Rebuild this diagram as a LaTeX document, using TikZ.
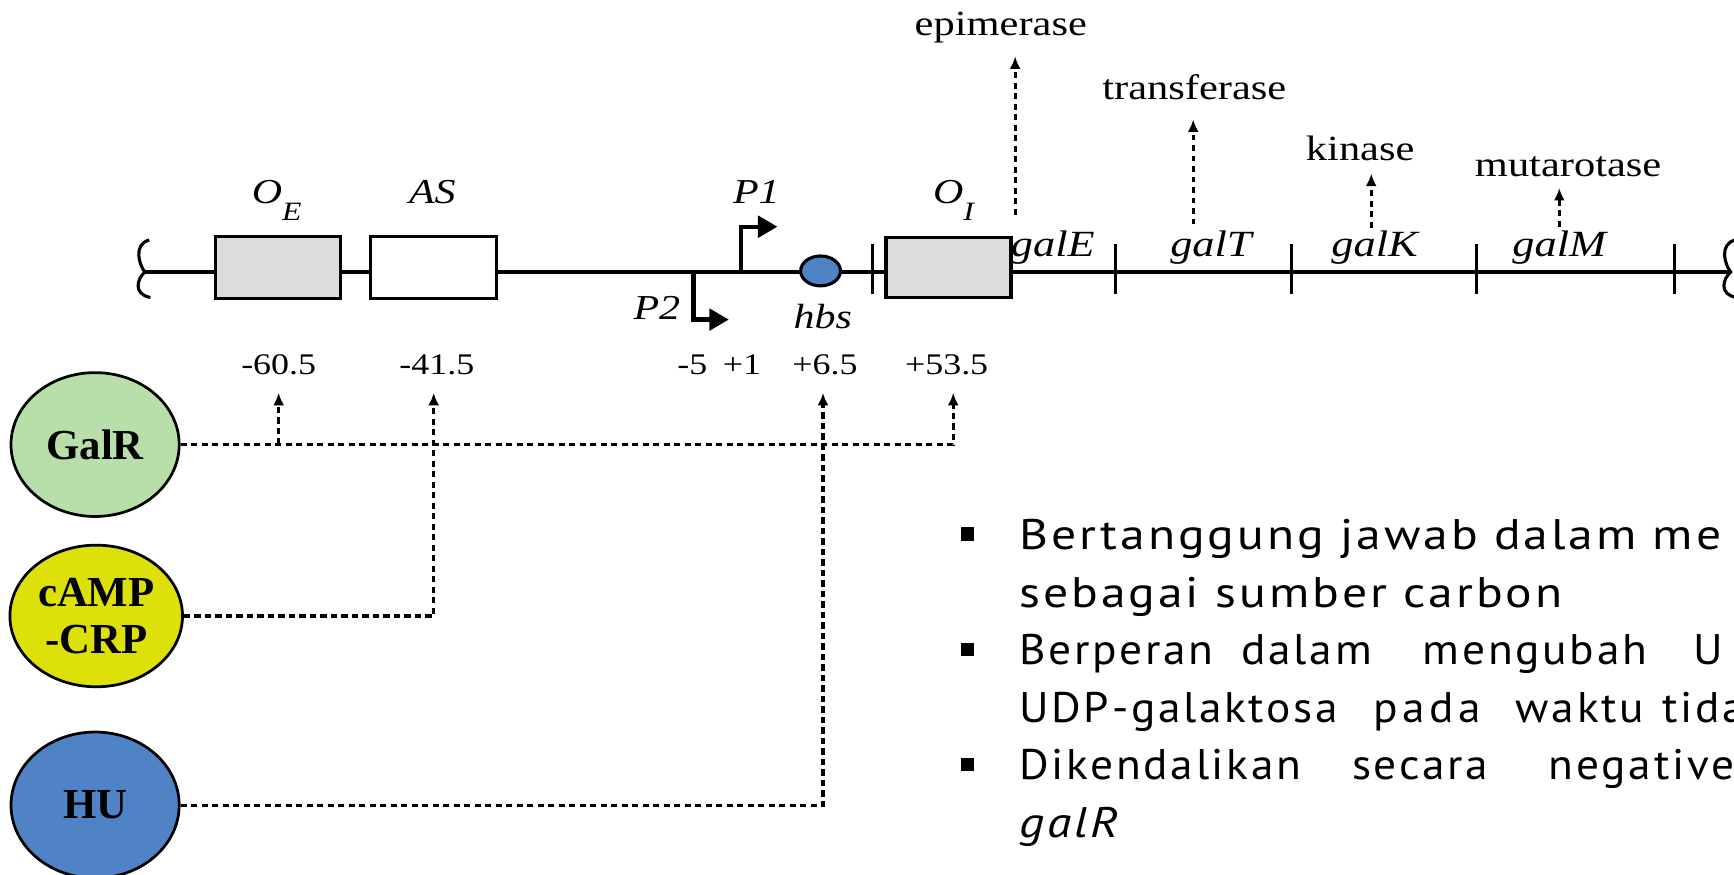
\documentclass[tikz,border=0pt]{standalone}
\usepackage{fontspec}
\setmainfont{Liberation Serif}
\newfontfamily\slidefont[LetterSpace=6]{PT Sans}
\newfontfamily\slidewidefont[LetterSpace=10]{PT Sans}
\usepackage{graphicx}
\usetikzlibrary{arrows.meta,shapes.geometric}
\definecolor{galrgreen}{RGB}{184,222,170}
\definecolor{crpyellow}{RGB}{222,224,10}
\definecolor{hublue}{RGB}{80,130,198}
\definecolor{boxgray}{RGB}{220,220,220}
\newcommand{\wid}[1]{\scalebox{1.2}[1]{#1}}
\newcommand{\sw}[1]{\scalebox{1.16}[1]{#1}}
\newcommand{\sn}[1]{\scalebox{1.06}[1]{#1}}
\tikzset{
 dna/.style={line width=0.8pt},
 dnatick/.style={line width=0.8pt},
 regbox/.style={draw, line width=0.9pt, inner sep=0pt, minimum height=0.56cm, minimum width=1.13cm},
 lbl/.style={inner sep=0pt, anchor=base},
 enz/.style={lbl, font=\fontsize{9.1}{10}\selectfont},
 gene/.style={lbl, font=\fontsize{9.5}{10}\selectfont\itshape},
 site/.style={lbl, font=\fontsize{9}{10}\selectfont\itshape},
 num/.style={lbl, font=\fontsize{7.7}{9}\selectfont},
 protein/.style={ellipse, draw, line width=0.7pt, inner sep=0pt, minimum width=1.52cm, minimum height=1.3cm, font=\fontsize{11}{12.2}\selectfont\bfseries, align=center},
 conn/.style={line width=0.8pt, dash pattern=on 1.6pt off 1.1pt},
 connarrow/.style={conn, -{Latex[length=3.2pt,width=2.8pt]}},
 enzarrow/.style={line width=0.8pt, dash pattern=on 1.5pt off 1.2pt, -{Latex[length=3.2pt,width=2.8pt]}},
 promarrow/.style={line width=1.1pt, -{Triangle[length=5pt,width=5.5pt]}},
 bword/.style={inner sep=0pt, anchor=base west, font=\slidefont\fontsize{11}{13}\selectfont},
 bwide/.style={bword, font=\slidewidefont\fontsize{11}{13}\selectfont},
 bullet/.style={fill, inner sep=0pt, minimum size=0.12cm},
}
\begin{document}
\begin{tikzpicture}[x=0.01cm,y=-0.01cm]
\clip (0,0) rectangle (1568,791);
\fill[white] (0,0) rectangle (1568,791);
% DNA backbone
\coordinate (L) at (131,246);
\coordinate (R) at (1565,246);
\draw[dna] (L) -- (R);
\draw[dna] (135,217) .. controls (120,221) and (126,240) .. (L) .. controls (124,252) and (120,266) .. (136,269);
\draw[dna] (1569,217) .. controls (1554,221) and (1560,240) .. (R) .. controls (1558,252) and (1554,266) .. (1570,269);
\foreach \x in {789,1009,1168,1335,1514} \draw[dnatick] (\x,221) -- (\x,266);
% boxes
\node[regbox, fill=boxgray] (oe) at (251.5,242) {};
\node[regbox, fill=white, minimum width=1.14cm] (as) at (392,242) {};
\node[regbox, fill=boxgray, minimum height=0.54cm] (oi) at (857.5,242) {};
\node[ellipse, draw, line width=0.8pt, fill=hublue, minimum width=0.36cm, minimum height=0.27cm, inner sep=0pt] (hbs) at (742,245) {};
% promoters
\coordinate (p1a) at (670,246); \coordinate (p1b) at (670,205); \coordinate (p1c) at (703,205);
\coordinate (p2a) at (627,246); \coordinate (p2b) at (627,289); \coordinate (p2c) at (659,289);
\draw[promarrow] (p1a) -- (p1b) -- (p1c);
\draw[promarrow] (p2a) -- (p2b) -- (p2c);
% site labels
\node[site, anchor=base west] (oel) at (227,184) {\wid{O\raisebox{-4.3pt}{\fontsize{6.8}{7}\selectfont E}}};
\node[site] (asl) at (391,184) {\wid{AS}};
\node[site] (p1l) at (684,184) {\wid{P1}};
\node[site] (p2l) at (594,289) {\wid{P2}};
\node[site] (hbsl) at (744,297) {\wid{hbs}};
\node[site, anchor=base west] (oil) at (843,184) {\wid{O\raisebox{-4.3pt}{\fontsize{6.8}{7}\selectfont I}}};
% genes
\node[gene] (galE) at (952,232) {\wid{galE}};
\node[gene] (galT) at (1095,232) {\wid{galT}};
\node[gene] (galK) at (1243,232) {\wid{galK}};
\node[gene] (galM) at (1410,232) {\wid{galM}};
% enzymes
\node[enz] (epi) at (905,32) {\wid{epimerase}};
\node[enz] (tra) at (1080,90) {\wid{transferase}};
\node[enz] (kin) at (1230,145) {\wid{kinase}};
\node[enz] (mut) at (1418,160) {\wid{mutarotase}};
\coordinate (eE) at (918,194); \coordinate (eEt) at (918,51);
\coordinate (eT) at (1079,203); \coordinate (eTt) at (1079,108);
\coordinate (eK) at (1240,206); \coordinate (eKt) at (1240,157);
\coordinate (eM) at (1410,205); \coordinate (eMt) at (1410,170);
\draw[enzarrow] (eE) -- (eEt);
\draw[enzarrow] (eT) -- (eTt);
\draw[enzarrow] (eK) -- (eKt);
\draw[enzarrow] (eM) -- (eMt);
% numbers
\node[num] (n605) at (252,339) {\wid{-60.5}};
\node[num] (n415) at (395,339) {\wid{-41.5}};
\node[num] (n5) at (626,339) {\wid{-5}};
\node[num] (n1) at (671,339) {\wid{+1}};
\node[num] (n65) at (746,339) {\wid{+6.5}};
\node[num] (n535) at (856,339) {\wid{+53.5}};
% proteins
\node[protein, fill=galrgreen] (galr) at (86,402) {GalR};
\node[protein, fill=crpyellow, minimum width=1.56cm, minimum height=1.28cm] (crp) at (87,557) {cAMP\\-CRP};
\node[protein, fill=hublue, minimum height=1.32cm] (hu) at (86,728) {HU};
% connectors
\draw[connarrow, shorten >=4.3pt] (galr.east) -| ([xshift=1.7pt]n535.south);
\draw[connarrow, shorten >=4.3pt] (galr.east -| n605.south) -- (n605.south);
\draw[connarrow, shorten >=4.3pt] (crp.east) -| ([xshift=-0.8pt]n415.south);
\draw[connarrow, shorten >=4.3pt] (hu.east) -| ([xshift=-0.5pt]n65.south);
% bullet text
\node[bullet] (b1) at (875,483) {};
\node[bullet] (b2) at (875,587) {};
\node[bullet] (b3) at (875,691) {};
\node[bword] (l1) at (921,497) {\sw{Bertanggung jawab dalam me}};
\node[bword] (l2) at (921,549) {\sw{sebagai sumber carbon}};
\node[bword] (l3a) at (921,601) {\sn{Berperan}};
\node[bword] (l3b) at (1122,601) {\sn{dalam}};
\node[bword] (l3c) at (1286,601) {\sn{mengubah}};
\node[bword] (l3d) at (1531,601) {\sn{U}};
\node[bword] (l4a) at (921,653) {\sn{UDP-galaktosa}};
\node[bwide] (l4b) at (1241,653) {\sn{pada}};
\node[bword] (l4c) at (1370,653) {\sn{waktu}};
\node[bword] (l4d) at (1503,653) {\sn{tida}};
\node[bword] (l5a) at (921,705) {\sn{Dikendalikan}};
\node[bword] (l5b) at (1222,705) {\sn{secara}};
\node[bword] (l5c) at (1400,705) {\sn{negative}};
\node[bword] (l6) at (921,757) {\sw{\itshape galR}};
\end{tikzpicture}
\end{document}
